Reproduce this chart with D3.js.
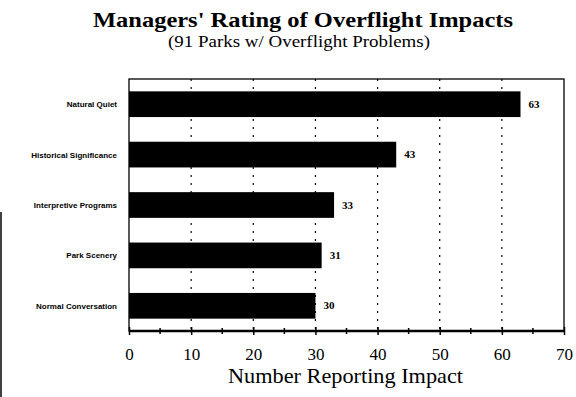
<!DOCTYPE html>
<html lang="en">
<head>
<meta charset="utf-8">
<title>Managers' Rating of Overflight Impacts</title>
<script src="https://d3js.org/d3.v7.min.js"></script>
<style>
    body { margin: 0; background: #fff; }
</style>
</head>
<body>
<svg width="576" height="397" id="mainsvg"></svg>
<script>
    // data
    const categories = ['Natural Quiet', 'Historical Significance', 'Interpretive Programs', 'Park Scenery', 'Normal Conversation'];
    const counts = [63, 43, 33, 31, 30];
    const xTicks = [0, 10, 20, 30, 40, 50, 60, 70];
    const minorTicks = [5, 15, 25, 35, 45, 55, 65];

    const svg = d3.select('#mainsvg');
    const margin = { top: 79, right: 12, bottom: 66, left: 129 };
    const width = +svg.attr('width');
    const height = +svg.attr('height');
    const innerWidth = width - margin.left - margin.right;
    const innerHeight = height - margin.top - margin.bottom;
    const serif = "'Liberation Serif', 'Times New Roman', serif";
    const sans = "'Liberation Sans', Arial, sans-serif";

    const data = categories.map((c, i) => ({ name: c, value: counts[i] }));

    const xScale = d3.scaleLinear().domain([0, 70]).range([0, innerWidth]);
    const yScale = d3.scaleBand().domain(categories).range([0, innerHeight]).paddingInner(0.49).paddingOuter(0.245);

    // titles (the scan is a bit wide, so stretch them to the measured width)
    svg.append('text')
        .attr('x', 93).attr('y', 27)
        .attr('font-family', serif).attr('font-weight', 'bold').attr('font-size', 21)
        .attr('textLength', 420).attr('lengthAdjust', 'spacingAndGlyphs')
        .text("Managers' Rating of Overflight Impacts");
    svg.append('text')
        .attr('x', 168).attr('y', 47)
        .attr('font-family', serif).attr('font-size', 16)
        .attr('textLength', 262).attr('lengthAdjust', 'spacingAndGlyphs')
        .text('(91 Parks w/ Overflight Problems)');

    // scan edge on the far left
    svg.append('line')
        .attr('x1', 1).attr('x2', 1).attr('y1', 212).attr('y2', 397)
        .attr('stroke', '#000').attr('stroke-width', 1.5);

    const g = svg.append('g')
        .attr('transform', `translate(${margin.left}, ${margin.top})`);

    // dotted grid
    g.selectAll('.grid').data(xTicks.slice(1, -1)).enter().append('line')
        .attr('class', 'grid')
        .attr('x1', d => xScale(d)).attr('x2', d => xScale(d))
        .attr('y1', 0).attr('y2', innerHeight)
        .attr('stroke', '#000').attr('stroke-width', 1.2)
        .attr('stroke-dasharray', '2,6');

    // frame
    g.append('rect')
        .attr('x', 0).attr('y', 0)
        .attr('width', innerWidth).attr('height', innerHeight)
        .attr('fill', 'none').attr('stroke', '#000').attr('stroke-width', 1.3);

    // bars
    g.selectAll('.bar').data(data).enter().append('rect')
        .attr('class', 'bar')
        .attr('x', 0)
        .attr('y', d => yScale(d.name))
        .attr('width', d => xScale(d.value))
        .attr('height', yScale.bandwidth())
        .attr('fill', '#000');

    // value labels
    g.selectAll('.val').data(data).enter().append('text')
        .attr('class', 'val')
        .attr('x', d => xScale(d.value) + 8)
        .attr('y', d => yScale(d.name) + yScale.bandwidth() / 2 + 3.5)
        .attr('font-family', serif).attr('font-weight', 'bold').attr('font-size', 11)
        .text(d => d.value);

    // category labels
    const yAxis = d3.axisLeft(yScale).tickSize(0).tickPadding(12);
    const yAxisGroup = g.append('g').call(yAxis)
        .attr('font-family', sans).attr('font-size', 8).attr('font-weight', 'bold')
        .attr('fill', '#000');
    yAxisGroup.selectAll('.domain').remove();
    yAxisGroup.selectAll('.tick text')
        .attr('dy', null).attr('y', 3)
        .attr('fill', '#000');

    // bottom axis
    const xAxis = d3.axisBottom(xScale).tickValues(xTicks).tickSize(4)
        .tickFormat(d3.format('d'));
    const xAxisGroup = g.append('g')
        .attr('transform', `translate(0, ${innerHeight})`)
        .call(xAxis)
        .attr('font-family', serif).attr('font-size', 17).attr('fill', '#000');
    xAxisGroup.select('.domain').attr('stroke-width', 2.5).attr('fill', 'none').attr('d', `M0,0H${innerWidth}`);
    xAxisGroup.selectAll('.tick line').attr('y1', -4).attr('stroke-width', 1.5);
    xAxisGroup.selectAll('.tick text')
        .attr('dy', null).attr('y', 29)
        .attr('fill', '#000');
    xAxisGroup.selectAll('.minor').data(minorTicks).enter().append('line')
        .attr('class', 'minor')
        .attr('x1', d => xScale(d)).attr('x2', d => xScale(d))
        .attr('y1', -3).attr('y2', 3)
        .attr('stroke', '#000').attr('stroke-width', 1.5);
    xAxisGroup.append('text')
        .attr('x', 228 - margin.left).attr('y', 52)
        .attr('text-anchor', 'start')
        .attr('font-size', 21).attr('fill', '#000')
        .attr('textLength', 235).attr('lengthAdjust', 'spacingAndGlyphs')
        .text('Number Reporting Impact');
</script>
</body>
</html>
